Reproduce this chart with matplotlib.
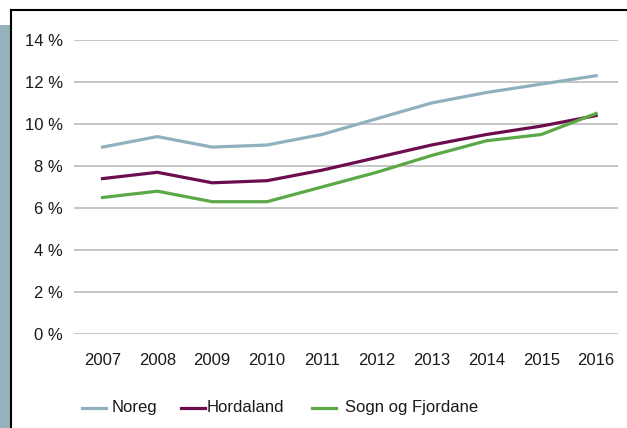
import matplotlib
matplotlib.use("Agg")
import matplotlib.pyplot as plt
from matplotlib.lines import Line2D
from matplotlib.patches import Rectangle
from matplotlib.ticker import FuncFormatter

years = ["2007", "2008", "2009", "2010", "2011", "2012", "2013", "2014", "2015", "2016"]
noreg = [8.9, 9.4, 8.9, 9.0, 9.5, 10.25, 11.0, 11.5, 11.9, 12.3]
hordaland = [7.4, 7.7, 7.2, 7.3, 7.8, 8.4, 9.0, 9.5, 9.9, 10.4]
sogn = [6.5, 6.8, 6.3, 6.3, 7.0, 7.7, 8.5, 9.2, 9.5, 10.5]
series_names = ["Noreg", "Hordaland", "Sogn og Fjordane"]
colors = ["#8fb1bd", "#6b0d4f", "#5aa846"]
yticks = [0, 2, 4, 6, 8, 10, 12, 14]

plt.rcParams['font.family'] = ['Liberation Sans', 'DejaVu Sans']

W, H = 627, 428
fig = plt.figure(figsize=(W / 100, H / 100), dpi=100)

def fx(px):
    return px / W

def fy(py):
    return 1 - py / H

# decorative frame and side bar
fig.add_artist(Rectangle((0, 0), fx(11), fy(25), transform=fig.transFigure,
                         facecolor="#93b2bb", edgecolor="none"))
fig.add_artist(Line2D([fx(11), fx(11)], [fy(10), 0], transform=fig.transFigure,
                      color="black", lw=1.5))
fig.add_artist(Line2D([fx(11), 1], [fy(10), fy(10)], transform=fig.transFigure,
                      color="black", lw=1.5))

left, right = 74, 618
top, bottom = 40, 334
ax = fig.add_axes([fx(left), fy(bottom), fx(right) - fx(left), fy(top) - fy(bottom)])

x = list(range(len(years)))
for vals, c in zip([noreg, hordaland, sogn], colors):
    ax.plot(x, vals, color=c, lw=2.3, solid_joinstyle="miter", zorder=3)

ax.set_xlim(-0.52, 9.40)
ax.set_ylim(0, 14)
ax.set_yticks(yticks)
ax.yaxis.set_major_formatter(FuncFormatter(lambda v, p: f"{int(v)} %"))
ax.set_xticks(x)
ax.set_xticklabels(years)
ax.grid(axis="y", color="#c0c0c0", lw=1.3)
ax.set_axisbelow(True)
for s in ax.spines.values():
    s.set_visible(False)
ax.tick_params(axis="both", length=0, labelsize=12, labelcolor="#1a1a1a")
ax.tick_params(axis="y", pad=8)
ax.tick_params(axis="x", pad=14)

# legend
leg_items = [(82, 106, 112), (181, 205, 207), (312, 336, 345)]
for (x0, x1, tx), name, c in zip(leg_items, series_names, colors):
    fig.add_artist(Line2D([fx(x0), fx(x1)], [fy(407.5), fy(407.5)],
                          transform=fig.transFigure, color=c, lw=2.3))
    fig.text(fx(tx), fy(407.5), name, ha="left", va="center", fontsize=12,
             color="#1a1a1a")

fig.savefig("out.png", dpi=100)
